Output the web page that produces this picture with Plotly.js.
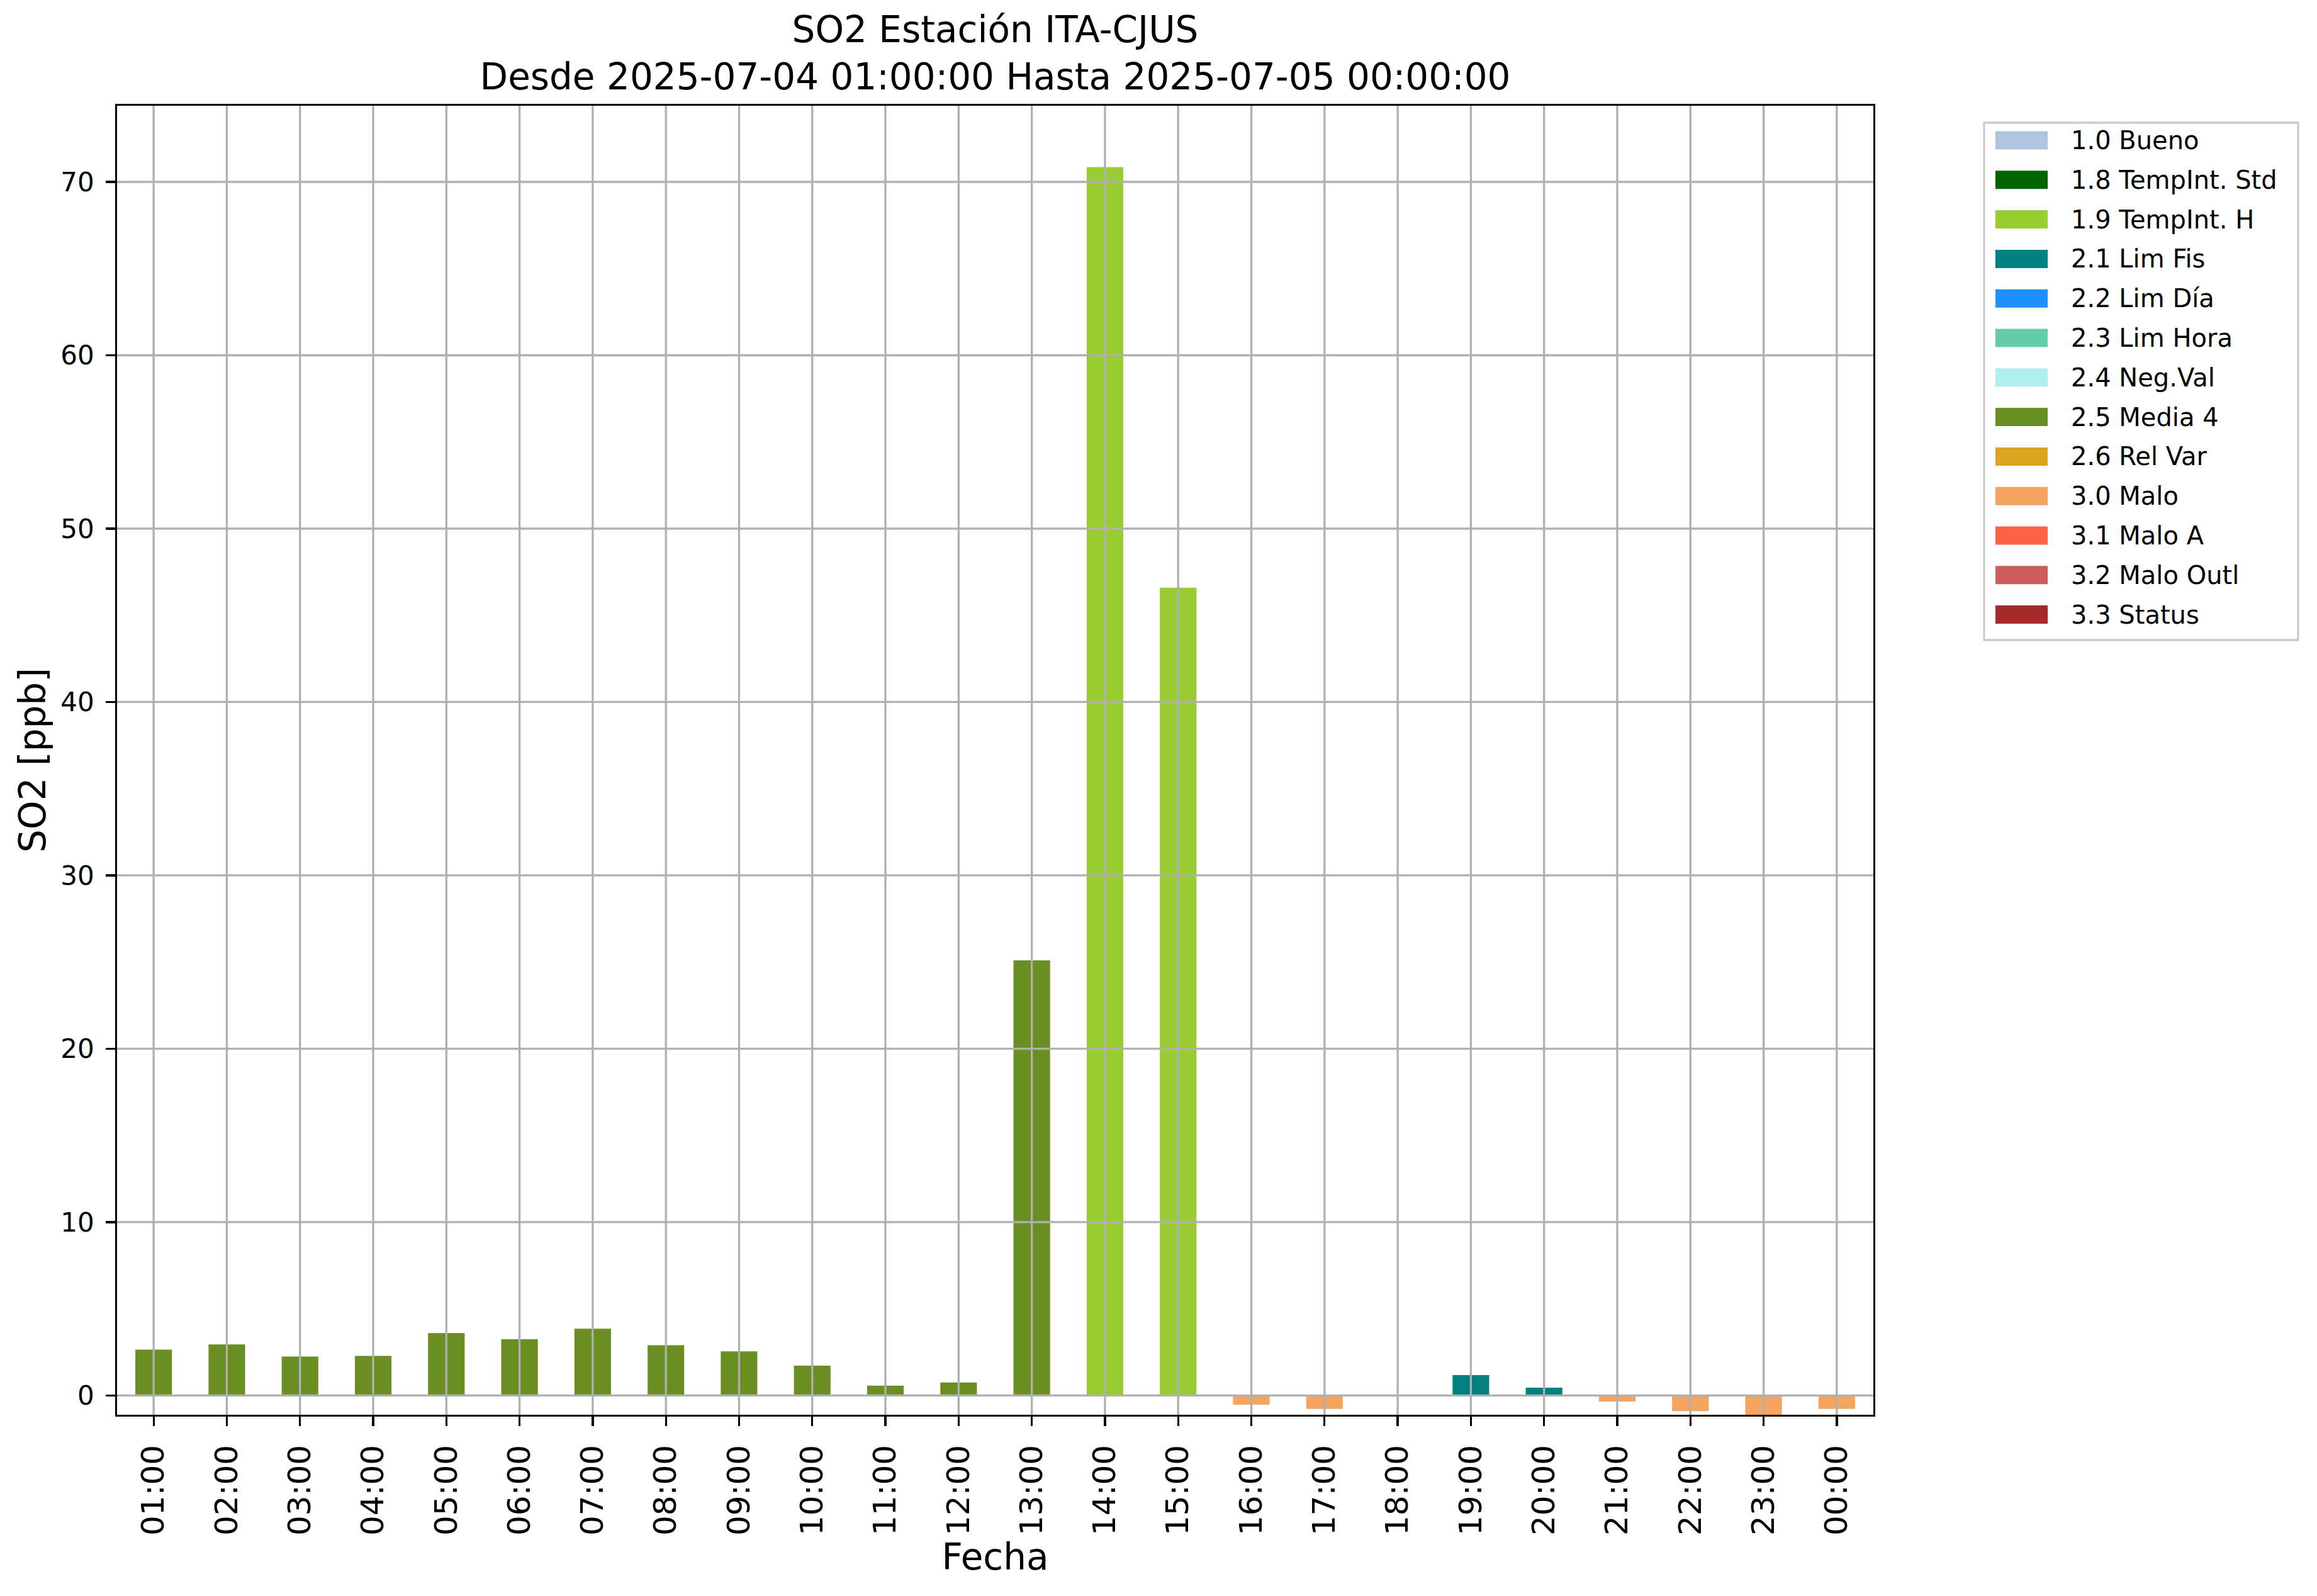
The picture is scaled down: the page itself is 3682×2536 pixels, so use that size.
<!DOCTYPE html>
<html>
<head>
<meta charset="utf-8">
<script src="https://cdn.plot.ly/plotly-3.0.1.min.js"></script>
<style>html,body{margin:0;padding:0;background:#fff;}#chart{width:3682px;height:2536px;}</style>
</head>
<body>
<div id="chart"></div>
<script>
// ---- data ----
const hours = ["01:00","02:00","03:00","04:00","05:00","06:00","07:00","08:00","09:00","10:00","11:00","12:00",
               "13:00","14:00","15:00","16:00","17:00","18:00","19:00","20:00","21:00","22:00","23:00","00:00"];
const so2Values = [2.65, 2.95, 2.25, 2.28, 3.6, 3.25, 3.85, 2.9, 2.55, 1.72, 0.57, 0.75,
                   25.1, 70.85, 46.6, -0.53, -0.77, null, 1.18, 0.45, -0.35, -0.9, -1.11, -0.77];
const so2Flags = ["2.5 Media 4","2.5 Media 4","2.5 Media 4","2.5 Media 4","2.5 Media 4","2.5 Media 4",
                  "2.5 Media 4","2.5 Media 4","2.5 Media 4","2.5 Media 4","2.5 Media 4","2.5 Media 4",
                  "2.5 Media 4","1.9 TempInt. H","1.9 TempInt. H","3.0 Malo","3.0 Malo",null,
                  "2.1 Lim Fis","2.1 Lim Fis","3.0 Malo","3.0 Malo","3.0 Malo","3.0 Malo"];
const flagNames = ["1.0 Bueno","1.8 TempInt. Std","1.9 TempInt. H","2.1 Lim Fis","2.2 Lim Día","2.3 Lim Hora",
                   "2.4 Neg.Val","2.5 Media 4","2.6 Rel Var","3.0 Malo","3.1 Malo A","3.2 Malo Outl","3.3 Status"];
const flagColors = ["#B0C4DE","#006400","#9ACD32","#008080","#1E90FF","#66CDAA",
                    "#AFEEEE","#6B8E23","#DAA520","#F4A460","#FF6347","#CD5C5C","#A52A2A"];
const yTicks = [0,10,20,30,40,50,60,70];
const titleText = "SO2 Estación ITA-CJUS<br>Desde 2025-07-04 01:00:00 Hasta 2025-07-05 00:00:00";

// ---- geometry ----
const W = 3682, H = 2536;
const L = 186, R = 2977, T = 168, B = 2248;
const pw = R - L, ph = B - T;
const px2x = p => (p - L) / pw;
const py2y = p => (B - p) / ph;
const FONT = "DejaVu Sans, sans-serif";
const GRID = "#b0b0b0";
const LW = 3.3;

const validVals = so2Values.filter(v => v !== null);
const yMin = Math.min(...validVals);
const yMax = Math.max(...validVals) * 1.05;

// ---- traces ----
const traces = flagNames.map((name, i) => ({
  type: "bar",
  name: name,
  x: hours,
  y: hours.map((h, k) => so2Flags[k] === name ? so2Values[k] : null),
  width: 0.5,
  marker: {color: flagColors[i], line: {width: 0}},
  showlegend: false,
  hoverinfo: "x+y+name"
}));

// ---- shapes: grid above bars + legend ----
const shapes = [];
hours.forEach(h => shapes.push({type: "line", xref: "x", yref: "paper", x0: h, x1: h, y0: 0, y1: 1,
  line: {color: GRID, width: LW}, layer: "above"}));
yTicks.forEach(v => shapes.push({type: "line", xref: "paper", yref: "y", x0: 0, x1: 1, y0: v, y1: v,
  line: {color: GRID, width: LW}, layer: "above"}));

const annotations = [];
// legend box
const lgL = 3153, lgR = 3652, lgT = 195, lgB = 1017;
shapes.push({type: "rect", xref: "paper", yref: "paper", x0: px2x(lgL), x1: px2x(lgR), y0: py2y(lgB), y1: py2y(lgT),
  line: {color: "#cccccc", width: LW}, fillcolor: "rgba(255,255,255,0.8)", layer: "above"});
const row0 = 223, rowStep = 62.8, swL = 3171, swR = 3254, swH = 29, txtX = 3289;
flagNames.forEach((name, i) => {
  const cy = row0 + i * rowStep;
  shapes.push({type: "rect", xref: "paper", yref: "paper", x0: px2x(swL), x1: px2x(swR),
    y0: py2y(cy + swH / 2), y1: py2y(cy - swH / 2), line: {width: 0}, fillcolor: flagColors[i], layer: "above"});
  annotations.push({xref: "paper", yref: "paper", x: px2x(txtX), y: py2y(cy), xanchor: "left", yanchor: "middle",
    text: name, showarrow: false, font: {family: FONT, size: 40, color: "#000"}});
});

const axisCommon = {
  showline: true, linecolor: "#000", linewidth: LW, mirror: true,
  ticks: "outside", ticklen: 14.6, tickwidth: LW, tickcolor: "#000",
  showgrid: false, zeroline: false, automargin: false
};

const layout = {
  width: W, height: H,
  margin: {l: L, r: W - R, t: T, b: H - B, pad: 0},
  paper_bgcolor: "#fff", plot_bgcolor: "#fff",
  font: {family: FONT, color: "#000"},
  barmode: "relative",
  showlegend: false,
  title: {text: titleText, x: (L + R) / 2 / W, xref: "container", xanchor: "center",
    y: 1 - 67 / H, yref: "container", yanchor: "top",
    font: {family: FONT, size: 58, color: "#000"}},
  xaxis: Object.assign({}, axisCommon, {
    type: "category", range: [-0.5, hours.length - 0.5], tickangle: -90,
    tickfont: {family: FONT, size: 50, color: "#000"}, ticklabelstandoff: 10,
    title: {text: "Fecha", font: {family: FONT, size: 58, color: "#000"}, standoff: 8}
  }),
  yaxis: Object.assign({}, axisCommon, {
    range: [yMin, yMax], tickvals: yTicks, ticktext: yTicks.map(String),
    tickfont: {family: FONT, size: 42, color: "#000"}, ticklabelstandoff: 10,
    title: {text: "SO2 [ppb]", font: {family: FONT, size: 58, color: "#000"}, standoff: 6}
  }),
  shapes: shapes,
  annotations: annotations
};

Plotly.newPlot("chart", traces, layout, {staticPlot: true, displayModeBar: false});
</script>
</body>
</html>
